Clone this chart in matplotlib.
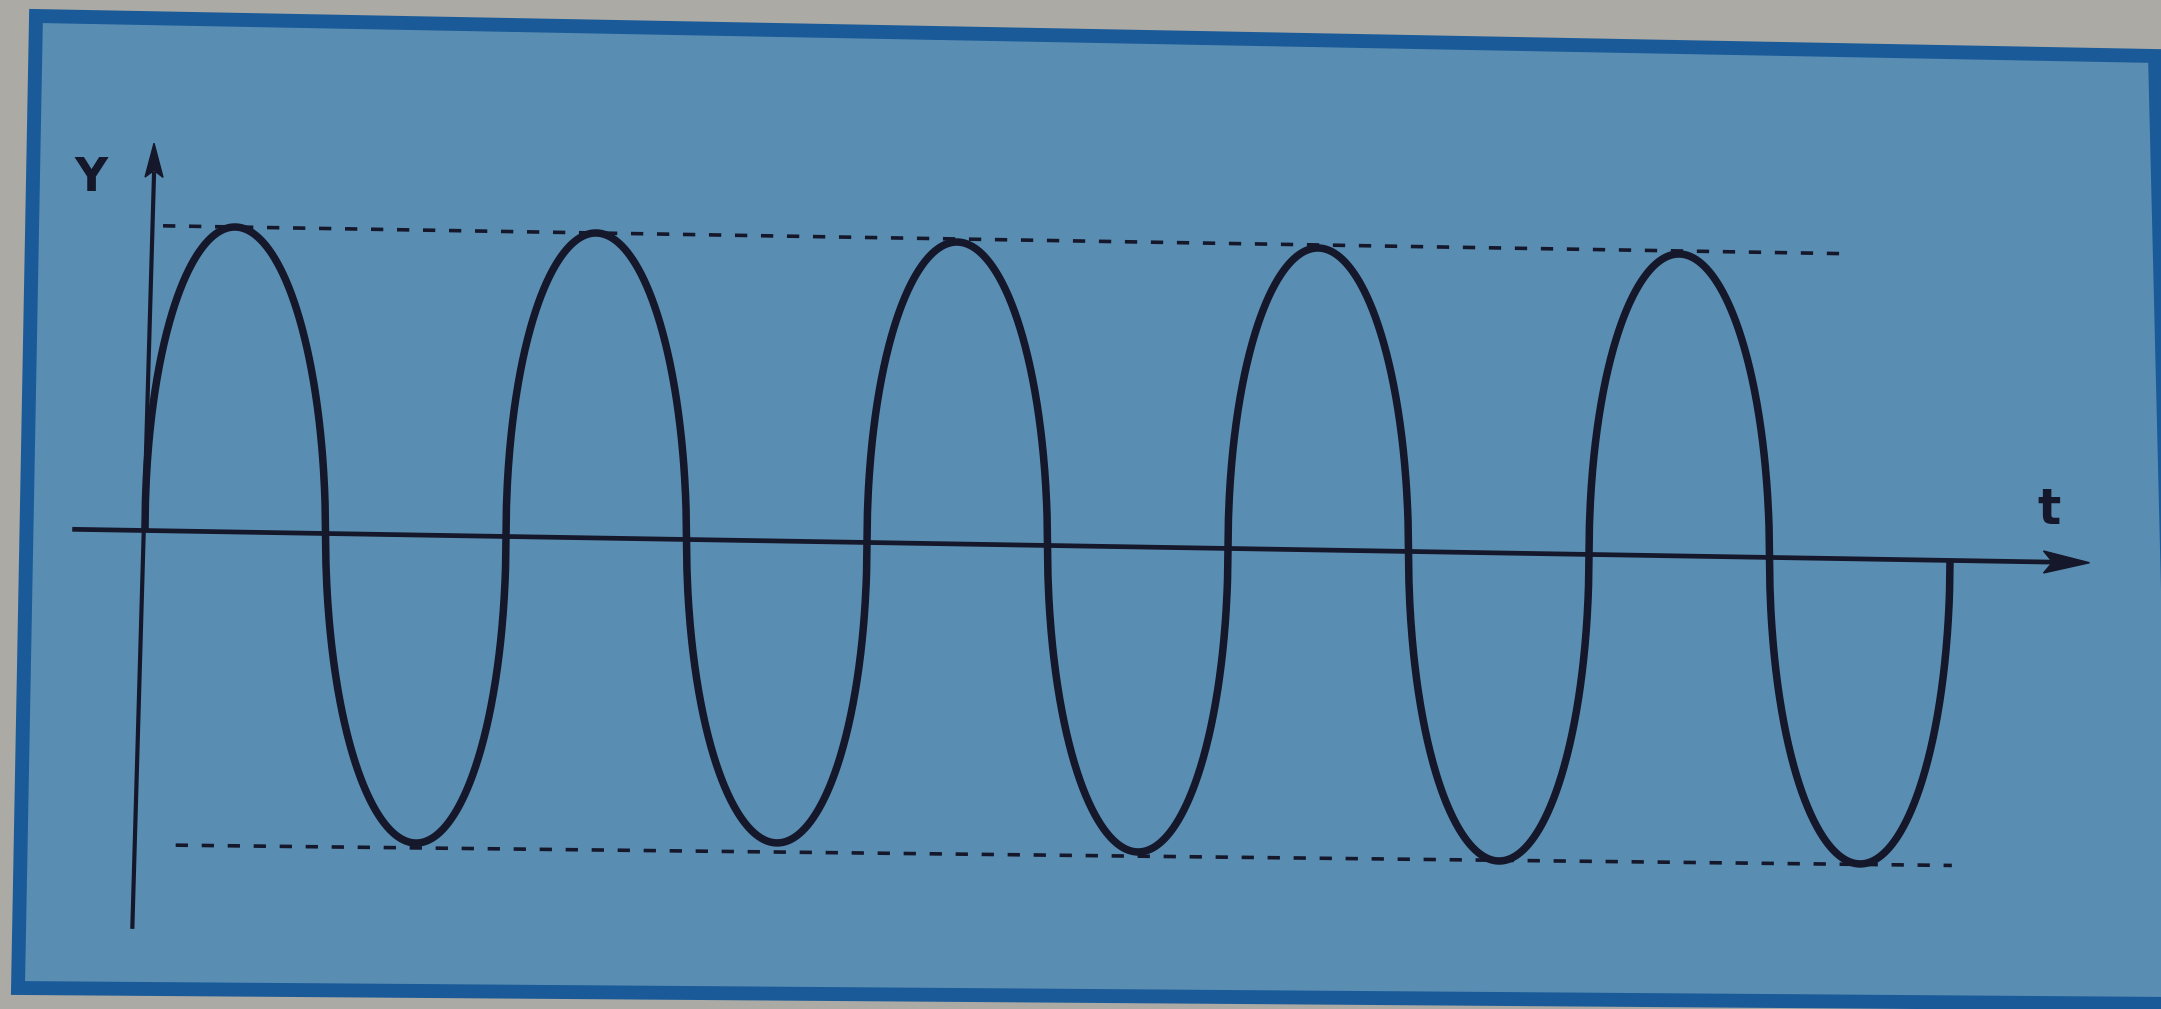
"""Textbook-style figure: periodic displacement Y(t) drawn as a wave on a blue card."""

import numpy as np
import matplotlib
matplotlib.use("Agg")
import matplotlib.pyplot as plt
from matplotlib.patches import Polygon
from matplotlib.transforms import Affine2D

# wave: zero crossings (t, in half-periods) and the peak of each half-wave
crossings = [0, 1, 2, 3, 4, 5, 6, 7, 8, 9, 10]
half_peaks = [1.00, -1.01, 1.00, -0.99, 0.99, -1.00, 0.99, -1.01, 0.99, -1.00]

# dashed amplitude guides: (t start, t end) and (level at start, level at end)
guide_t = [(0.1, 9.43), (0.17, 10.01)]
guide_y = [(1.0, 1.0), (-1.03, -1.0)]

# axes extents (the printed Y axis leans a little)
t_axis = (-0.39, 10.62)
y_axis_t = [-0.07, 0.05]
y_axis_y = [-1.30, 1.17]

W, H, DPI = 2161, 1009, 100
PX_T = 180.5      # pixels per half-period
PX_Y = 305.0      # pixels per unit amplitude
ORIGIN = (145, 530.5)   # origin in image pixels (from top-left)

INK = "#15172a"
CARD = "#5a8db2"
EDGE = "#1a5a98"
PAPER = "#abaaa4"


def main():
    fig = plt.figure(figsize=(W / DPI, H / DPI), dpi=DPI, facecolor=PAPER)

    # the blue card with its dark blue frame (slightly skewed, it is a photo)
    card = [(36, 16), (2155, 56), (2178, 1004), (18, 988)]
    card = [(x / W, 1 - y / H) for x, y in card]
    fig.patches.append(Polygon(card, closed=True, transform=fig.transFigure,
                               facecolor=CARD, edgecolor=EDGE, lw=10, zorder=-1))

    ax = fig.add_axes([0, 0, 1, 1], zorder=1)
    ax.set_facecolor("none")
    ax.axis("off")
    ox, oy = ORIGIN
    ax.set_xlim(-ox / PX_T, (W - ox) / PX_T)
    ax.set_ylim(-(H - oy) / PX_Y, oy / PX_Y)

    dx, dy = ax.transData.transform((0, 0))
    tilt = Affine2D().translate(-dx, -dy).skew_deg(0, -0.95).translate(dx, dy)
    tr = ax.transData + tilt

    # wave: each half-wave is an elliptic arch between two crossings
    ts, ys = [], []
    for a, b, pk in zip(crossings[:-1], crossings[1:], half_peaks):
        t = np.linspace(a, b, 400)
        u = (t - (a + b) / 2) / ((b - a) / 2)
        ts.append(t)
        ys.append(pk * np.sqrt(np.clip(1 - u ** 2, 0, None)))
    ax.plot(np.concatenate(ts), np.concatenate(ys), color=INK, lw=5.4,
            solid_capstyle="butt", solid_joinstyle="round", transform=tr, zorder=4)

    # dashed amplitude guides
    for gt, gy in zip(guide_t, guide_y):
        ax.plot(gt, gy, color=INK, lw=2.6, dashes=(3.4, 3.8),
                transform=tr, zorder=3)

    # axes with arrowheads
    ax.plot(t_axis, [0, 0], color=INK, lw=3.4, transform=tr, zorder=3)
    ax.plot(y_axis_t, y_axis_y, color=INK, lw=3.0, transform=tr, zorder=3)
    hl, hw = 46 / PX_T, 11 / PX_Y
    tip = t_axis[1] + hl * 0.6
    ax.add_patch(Polygon([(tip, 0), (tip - hl, hw), (tip - hl * 0.8, 0), (tip - hl, -hw)],
                         closed=True, color=INK, transform=tr, zorder=4))
    vl, vw = 34 / PX_Y, 9 / PX_T
    vx = y_axis_t[1]
    vtip = y_axis_y[1] + vl * 0.9
    ax.add_patch(Polygon([(vx, vtip), (vx + vw, vtip - vl), (vx, vtip - vl * 0.8),
                          (vx - vw, vtip - vl)],
                         closed=True, color=INK, transform=tr, zorder=4))

    ax.text(-0.30, 1.15, "Y", fontsize=33, fontweight="bold", color=INK,
            ha="center", va="center", transform=tr)
    ax.text(10.55, 0.17, "t", fontsize=35, fontweight="bold", color=INK,
            ha="center", va="center", transform=tr)

    fig.savefig("out.png", dpi=DPI, facecolor=PAPER)


if __name__ == "__main__":
    main()
